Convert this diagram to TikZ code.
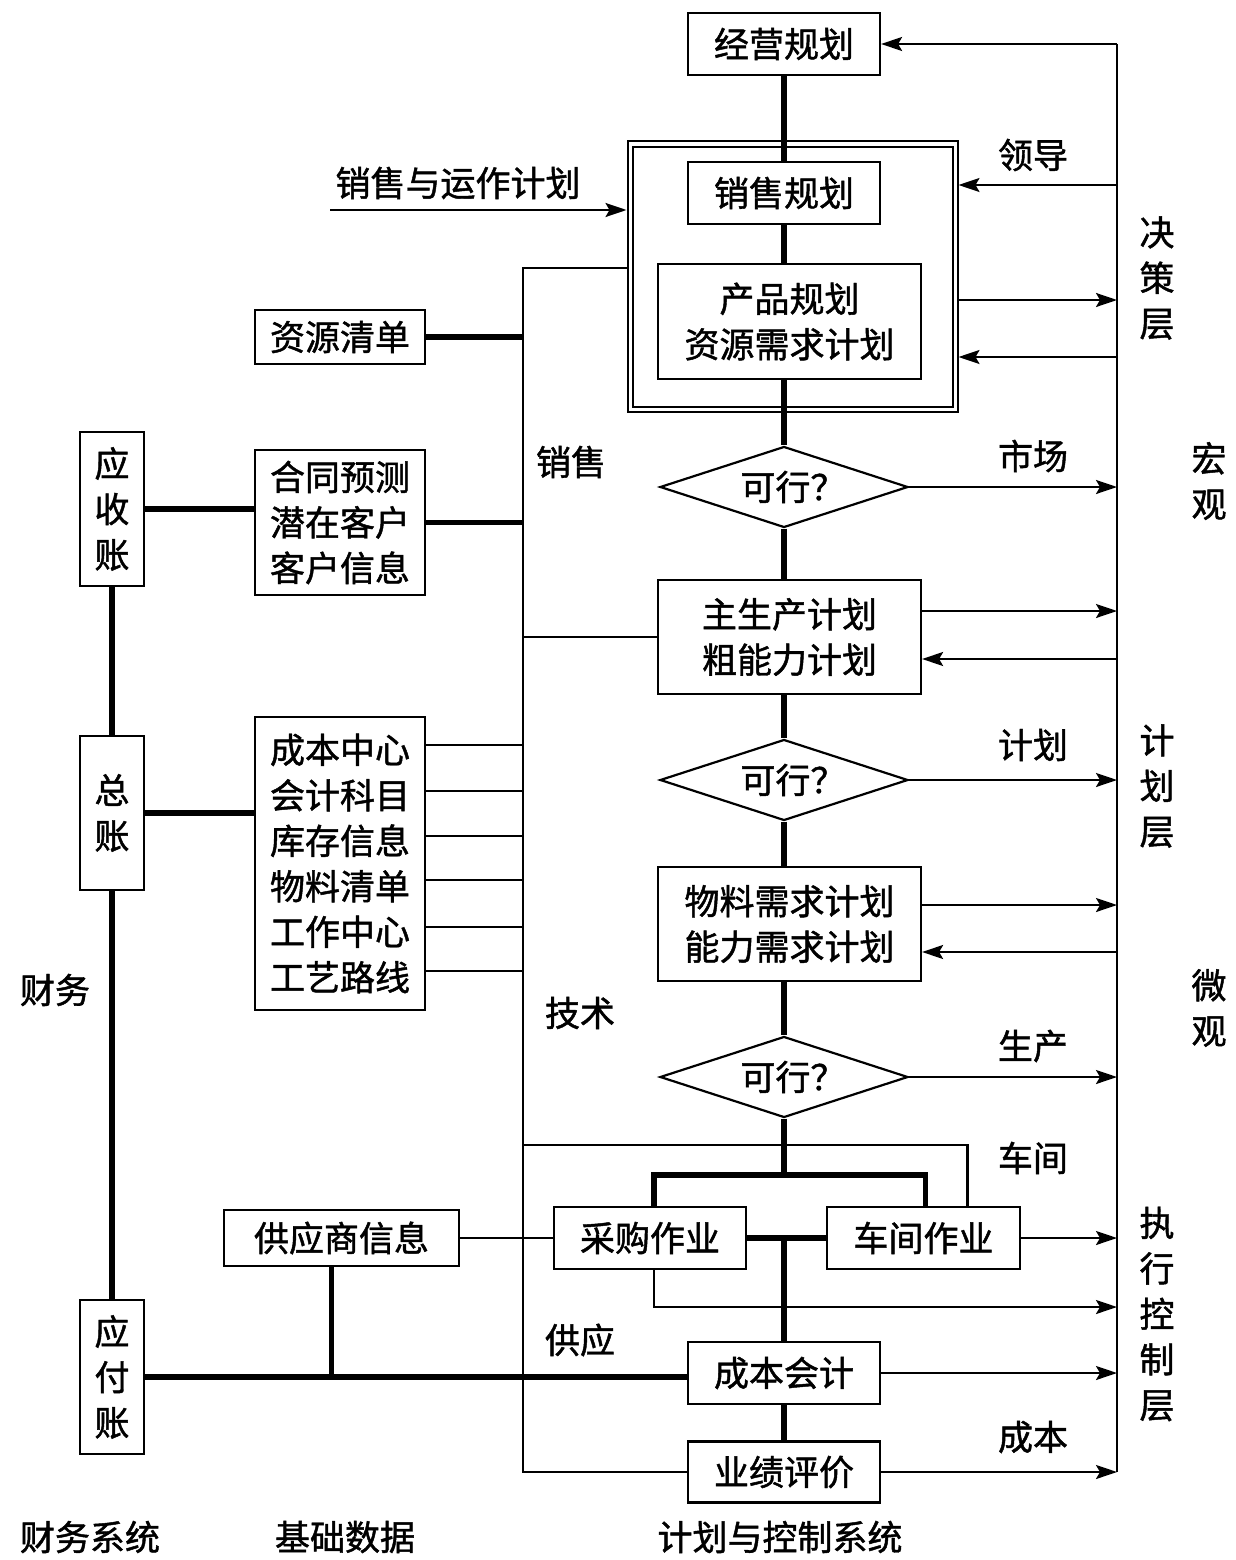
\documentclass[tikz,border=0pt]{standalone}
\usepackage{fontspec}
\setmainfont{Noto Sans CJK SC}[RawFeature={embolden=1.3}]
\usetikzlibrary{arrows.meta,shapes.geometric,calc}
\newcommand\mylab{\fontsize{35pt}{45.5pt}\selectfont}
\tikzset{
  box/.style={draw, line width=2.2pt, inner sep=0pt, align=center, font=\mylab},
  dia/.style={draw, shape=diamond, aspect=3, line width=2.2pt, inner sep=0pt, minimum width=248pt, minimum height=81pt, font=\mylab},
  ln/.style={line width=2.2pt},
  tk/.style={line width=5.5pt},
  arr/.style={ln, -{Stealth[length=21pt,width=14pt,inset=4pt]}},
  lbl/.style={inner sep=0pt, align=center, font=\mylab}
}
\begin{document}
\begin{tikzpicture}[x=1pt,y=-1pt]
\useasboundingbox (0,0) rectangle (1235,1560);
% ---- centre column
\node[box, minimum width=192pt, minimum height=62pt] (jy) at (784,44) {经营规划};
\node[draw, double, line width=2pt, double distance=3pt, minimum width=325pt, minimum height=265pt, outer sep=3.5pt] (ob) at (792.5,276.5) {};
\node[box, fill=white, minimum width=192pt, minimum height=62pt] (xs) at (784,193) {销售规划};
\node[box, minimum width=263pt, minimum height=115pt] (cp) at (789.5,321.5) {产品规划\\资源需求计划};
\node[dia] (d1) at (784,487) {\hspace*{18pt}可行？};
\node[box, minimum width=263pt, minimum height=114pt] (ms) at (789.5,637) {主生产计划\\粗能力计划};
\node[dia] (d2) at (784,780) {\hspace*{18pt}可行？};
\node[box, minimum width=263pt, minimum height=114pt] (mr) at (789.5,924) {物料需求计划\\能力需求计划};
\node[dia] (d3) at (784,1077) {\hspace*{18pt}可行？};
\node[box, minimum width=192pt, minimum height=62pt] (cg) at (650,1238) {采购作业};
\node[box, minimum width=193pt, minimum height=62pt] (cj) at (923.5,1238) {车间作业};
\node[box, minimum width=192pt, minimum height=62pt] (ck) at (784,1373) {成本会计};
\node[box, minimum width=192pt, minimum height=61pt] (yj) at (784,1472) {业绩评价};
% ---- base data column
\node[box, minimum width=170pt, minimum height=54pt] (zy) at (340,337) {资源清单};
\node[box, minimum width=170pt, minimum height=145pt] (ht) at (340,522.5) {合同预测\\潜在客户\\客户信息};
\node[box, minimum width=170pt, minimum height=293pt] (cb) at (340,863.5) {成本中心\\会计科目\\库存信息\\物料清单\\工作中心\\工艺路线};
\node[box, minimum width=235pt, minimum height=56pt] (gy) at (341.5,1238) {供应商信息};
% ---- finance column
\node[box, minimum width=64pt, minimum height=154pt] (ys) at (112,509) {应\\收\\账};
\node[box, minimum width=64pt, minimum height=154pt] (zz) at (112,813) {总\\账};
\node[box, minimum width=64pt, minimum height=154pt] (yf) at (112,1377) {应\\付\\账};
% ---- coordinates
\coordinate (sp) at (784,0);
\coordinate (busT) at (1117,44);
\coordinate (busB) at (1117,1472);
\coordinate (lT) at (523,268);
\coordinate (lB) at (523,1472);
\coordinate (s0) at (330,210);
\coordinate (c1145) at (523,1145);
\coordinate (j1175) at (784,1175);
\coordinate (b185) at (1117,185);
\coordinate (b300) at (1117,300);
\coordinate (b357) at (1117,357);
\coordinate (b611) at (1117,611);
\coordinate (b659) at (1117,659);
\coordinate (b905) at (1117,905);
\coordinate (b952) at (1117,952);
\coordinate (b1307) at (1117,1307);
% ---- spine (thick)
\draw[tk] (jy.south) -- (xs.north);
\draw[tk] (xs.south) -- (xs.south |- cp.north);
\draw[tk] (cp.south -| sp) -- (d1.north);
\draw[tk] (d1.south) -- (ms.north -| sp);
\draw[tk] (ms.south -| sp) -- (d2.north);
\draw[tk] (d2.south) -- (mr.north -| sp);
\draw[tk] (mr.south -| sp) -- (d3.north);
\draw[tk] (d3.south) -- (j1175);
\draw[tk] ([xshift=4pt]cg.north) |- (j1175) -| ([xshift=2pt]cj.north);
\draw[tk] (cg.east) -- (cj.west);
\draw[tk] (cg.east -| ck.north) -- (ck.north);
\draw[tk] (ck.south) -- (yj.north);
% ---- right bus
\draw[ln] (busT) -- (busB);
\draw[arr] (busT) -- (jy.east);
\draw[arr] (b185) -- (b185 -| ob.east);
\draw[arr] (b300 -| ob.east) -- (b300);
\draw[arr] (b357) -- (b357 -| ob.east);
\draw[arr] (d1.east) -- (d1.east -| busB);
\draw[arr] (b611 -| ms.east) -- (b611);
\draw[arr] (b659) -- (b659 -| ms.east);
\draw[arr] (d2.east) -- (d2.east -| busB);
\draw[arr] (b905 -| mr.east) -- (b905);
\draw[arr] (b952) -- (b952 -| mr.east);
\draw[arr] (d3.east) -- (d3.east -| busB);
\draw[arr] (cj.east) -- (cj.east -| busB);
\draw[arr] ([xshift=4pt]cg.south) |- (b1307);
\draw[arr] (ck.east) -- (ck.east -| busB);
\draw[arr] (yj.east) -- (busB);
% ---- left bus
\draw[ln] (lT -| ob.west) -- (lT) |- (yj.west);
\draw[ln] (ms.west) -- (ms.west -| lT);
\draw[ln] (c1145) -| ([xshift=44pt]cj.north);
\draw[arr] (s0) -- (s0 -| ob.west);
\draw[tk] (zy.east) -- (zy.east -| lT);
\draw[tk] (ht.east) -- (ht.east -| lT);
\foreach \y in {745,791,836,880,927,971} \draw[ln] (cb.east |- 0,\y) -- (lT |- 0,\y);
\draw[ln] (gy.east) -- (cg.west);
% ---- finance links
\draw[tk] (ys.east) -- (ys.east -| ht.west);
\draw[tk] (zz.east) -- (zz.east -| cb.west);
\draw[tk] (ys.south) -- (zz.north);
\draw[tk] (zz.south) -- (yf.north);
\draw[tk] (yf.east) -- (yf.east -| ck.west);
\draw[tk] ([xshift=-10pt]gy.south) -- ([xshift=-10pt]gy.south |- yf.east);
% ---- labels
\node[lbl] (t0) at (458,183) {销售与运作计划};
\node[lbl] (l1) at (1033,155) {领导};
\node[lbl] (l2) at (1033,456) {市场};
\node[lbl] (l3) at (1033,745) {计划};
\node[lbl] (l4) at (1033,1046) {生产};
\node[lbl] (l5) at (1033,1158) {车间};
\node[lbl] (l6) at (1033,1437) {成本};
\node[lbl] (m1) at (571,462) {销售};
\node[lbl] (m2) at (580,1013) {技术};
\node[lbl] (m3) at (580,1340) {供应};
\node[lbl] (r1) at (1157,278) {决\\策\\层};
\node[lbl] (r2) at (1157,786) {计\\划\\层};
\node[lbl] (r3) at (1157,1314) {执\\行\\控\\制\\层};
\node[lbl] (r4) at (1209,481) {宏\\观};
\node[lbl] (r5) at (1209,1008) {微\\观};
\node[lbl] (f1) at (55,990) {财务};
\node[lbl] (b1) at (90,1537) {财务系统};
\node[lbl] (b2) at (345,1537) {基础数据};
\node[lbl] (b3) at (780,1537) {计划与控制系统};
\end{tikzpicture}
\end{document}
